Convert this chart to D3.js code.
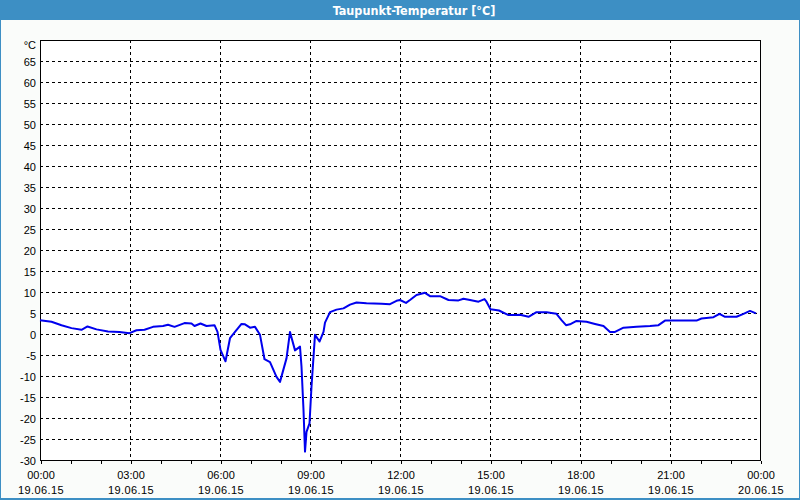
<!DOCTYPE html>
<html>
<head>
<meta charset="utf-8">
<script src="https://cdn.jsdelivr.net/npm/d3@7"></script>
<style>
  html, body { margin: 0; padding: 0; background: #ffffff; }
  svg { display: block; }
</style>
</head>
<body>
<svg id="chart" width="800" height="500"></svg>
<script>
// ---- data ----
const title = "Taupunkt-Temperatur [°C]";
const unitLabel = "°C";
const times = [
  "00:00","00:23","00:43","01:03","01:23","01:35","01:53","02:16","02:39","02:59",
  "03:13","03:29","03:46","04:06","04:16","04:29","04:49","05:03","05:09","05:21",
  "05:33","05:49","05:55","06:01","06:11","06:20","06:30","06:43","06:50","07:00",
  "07:10","07:20","07:29","07:40","07:53","08:00","08:13","08:20","08:30","08:40",
  "08:43","08:47","08:50","08:53","08:59","09:03","09:10","09:19","09:27","09:30",
  "09:40","09:53","10:07","10:20","10:33","10:53","11:23","11:40","11:53","12:00",
  "12:12","12:20","12:33","12:50","13:00","13:20","13:37","13:57","14:07","14:20",
  "14:37","14:49","14:53","15:01","15:18","15:37","15:53","16:00","16:17","16:33",
  "16:53","17:13","17:23","17:32","17:40","17:53","18:13","18:30","18:47","19:00",
  "19:10","19:27","19:53","20:20","20:37","20:50","21:20","21:53","22:03","22:27",
  "22:39","22:50","23:13","23:27","23:40","23:52"
];
const values = [
  3.3, 2.9, 2.1, 1.4, 1.0, 1.8, 1.1, 0.6, 0.5, 0.2,
  0.9, 1.0, 1.7, 1.9, 2.2, 1.7, 2.6, 2.5, 1.9, 2.5,
  1.9, 2.1, 0.5, -3.8, -6.5, -1.0, 0.5, 2.4, 2.3, 1.5,
  1.7, -0.2, -6.0, -6.7, -10.2, -11.4, -5.8, 0.5, -3.9, -3.0,
  -7.8, -18.1, -28.0, -23.3, -21.3, -12.5, -0.2, -1.8, 0.5, 2.7,
  5.2, 5.8, 6.1, 7.0, 7.5, 7.3, 7.2, 7.1, 7.9, 8.1,
  7.4, 8.1, 9.3, 9.8, 9.0, 9.0, 8.1, 8.0, 8.4, 8.1,
  7.7, 8.3, 7.7, 5.9, 5.6, 4.5, 4.5, 4.6, 4.1, 5.2,
  5.2, 4.8, 3.3, 2.1, 2.3, 3.1, 2.9, 2.4, 1.9, 0.5,
  0.5, 1.5, 1.7, 1.9, 2.1, 3.2, 3.2, 3.2, 3.7, 4.0,
  4.8, 4.1, 4.1, 4.8, 5.5, 4.9
];
const yTicks = [-30, -25, -20, -15, -10, -5, 0, 5, 10, 15, 20, 25, 30, 35, 40, 45, 50, 55, 60, 65];
const xMajorHours = [0, 3, 6, 9, 12, 15, 18, 21, 24];
const xTimeLabels = ["00:00","03:00","06:00","09:00","12:00","15:00","18:00","21:00","00:00"];
const xDateLabels = ["19.06.15","19.06.15","19.06.15","19.06.15","19.06.15","19.06.15","19.06.15","19.06.15","20.06.15"];

// ---- layout ----
const W = 800, H = 500;
const plot = { left: 40, right: 760, top: 40, bottom: 460 };
const svg = d3.select("#chart");

const base = new Date(2015, 5, 19, 0, 0);
const parseT = s => { const [h, m] = s.split(":").map(Number); return new Date(base.getTime() + (h * 60 + m) * 60000); };
const hourDate = h => new Date(base.getTime() + h * 3600000);

const x = d3.scaleTime().domain([base, hourDate(24)]).range([plot.left, plot.right]);
const y = d3.scaleLinear().domain([-30, 70]).range([plot.bottom, plot.top]);

const data = times.map((t, i) => ({ t: parseT(t), v: values[i] }));

// background + frame
svg.append("rect").attr("x", 0).attr("y", 0).attr("width", W).attr("height", H).attr("fill", "#fafcfa");
svg.append("rect").attr("x", 0).attr("y", 0).attr("width", W).attr("height", 20).attr("fill", "#3d8fc4");
svg.append("rect").attr("x", 0.5).attr("y", 0.5).attr("width", W - 1).attr("height", H - 1)
  .attr("fill", "none").attr("stroke", "#3d8fc4").attr("stroke-width", 1);
svg.append("rect").attr("x", 0).attr("y", H - 2).attr("width", W).attr("height", 2).attr("fill", "#3d8fc4");
svg.append("text").attr("x", 414).attr("y", 14.5).attr("text-anchor", "middle")
  .attr("fill", "#ffffff").attr("font-family", "'Liberation Sans Narrow', 'DejaVu Sans Condensed', sans-serif")
  .attr("font-weight", "bold").attr("font-size", "12.5px").text(title);

// plot background
svg.append("rect").attr("x", plot.left).attr("y", plot.top)
  .attr("width", plot.right - plot.left).attr("height", plot.bottom - plot.top).attr("fill", "#ffffff");

// horizontal grid
const g = svg.append("g").attr("shape-rendering", "crispEdges");
g.selectAll("line.hg").data(yTicks.filter(v => v > -30)).join("line")
  .attr("x1", plot.left).attr("x2", plot.right)
  .attr("y1", d => Math.round(y(d)) + 0.5).attr("y2", d => Math.round(y(d)) + 0.5)
  .attr("stroke", "#000").attr("stroke-dasharray", "3,3");
// vertical grid
g.selectAll("line.vg").data(xMajorHours.filter(h => h > 0 && h < 24)).join("line")
  .attr("x1", d => Math.round(x(hourDate(d))) + 0.5).attr("x2", d => Math.round(x(hourDate(d))) + 0.5)
  .attr("y1", plot.top).attr("y2", plot.bottom)
  .attr("stroke", "#000").attr("stroke-dasharray", "3,3");

// frame
g.append("rect").attr("x", plot.left + 0.5).attr("y", plot.top + 0.5)
  .attr("width", plot.right - plot.left).attr("height", plot.bottom - plot.top)
  .attr("fill", "none").attr("stroke", "#000");

// x axis with hourly ticks
const xAxis = d3.axisBottom(x).ticks(d3.timeHour.every(1)).tickSize(3).tickFormat("");
const xa = svg.append("g").attr("transform", `translate(0.5,${plot.bottom + 0.5})`).call(xAxis);
xa.select(".domain").remove();
xa.selectAll("line").attr("shape-rendering", "crispEdges");

const font = "'Liberation Sans', Arial, sans-serif";
const lbl = svg.append("g").attr("font-family", font).attr("font-size", "11px").attr("fill", "#000");
lbl.selectAll("text.xt").data(xMajorHours).join("text")
  .attr("x", d => x(hourDate(d)) + 1).attr("y", 479).attr("text-anchor", "middle")
  .text((d, i) => xTimeLabels[i]);
lbl.selectAll("text.xd").data(xMajorHours).join("text")
  .attr("x", d => x(hourDate(d)) + 1).attr("y", 494).attr("text-anchor", "middle")
  .attr("letter-spacing", "0.4px")
  .text((d, i) => xDateLabels[i]);

// y labels
lbl.selectAll("text.yl").data(yTicks).join("text")
  .attr("x", 36).attr("y", d => y(d) + 5).attr("text-anchor", "end")
  .text(d => d);
lbl.append("text").attr("x", 36).attr("y", 49).attr("text-anchor", "end").text(unitLabel);

// line
const line = d3.line().x(d => x(d.t)).y(d => y(d.v));
svg.append("path").datum(data).attr("d", line)
  .attr("fill", "none").attr("stroke", "#0000ee").attr("stroke-width", 2)
  .attr("stroke-linejoin", "round");
</script>
</body>
</html>
